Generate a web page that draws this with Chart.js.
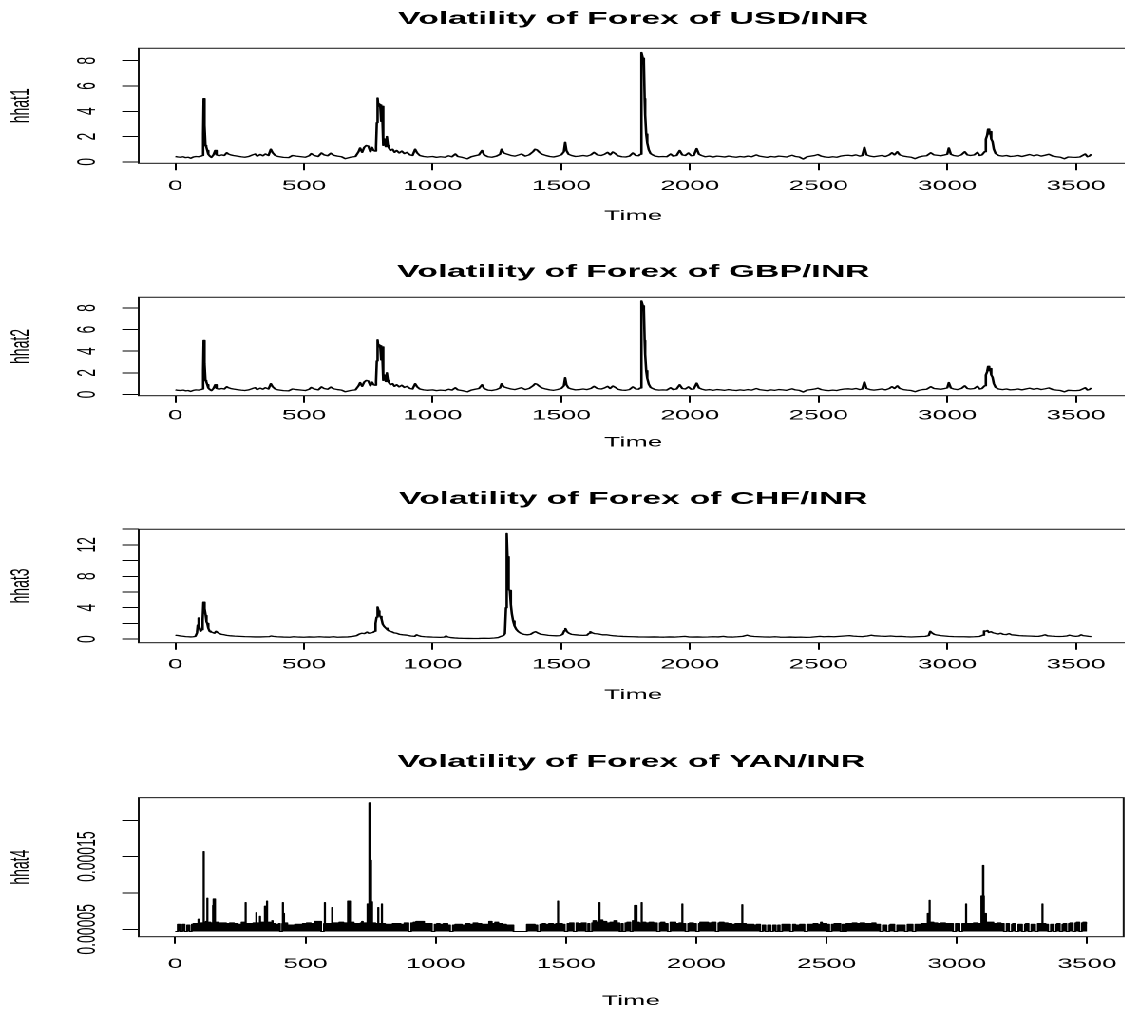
<!DOCTYPE html>
<html>
<head>
<meta charset="utf-8">
<title>Volatility of Forex</title>
<script src="https://cdn.jsdelivr.net/npm/chart.js@4.4.1/dist/chart.umd.min.js"></script>
<style>
  html, body { margin: 0; background: #fff; }
  #page { position: relative; width: 1125px; height: 1010px; overflow: hidden; }
  /* the source figure is an R plot stretched sideways, so the whole drawing is too */
  #stretch { position: absolute; left: 0; top: 0; width: 600px; height: 1010px; transform: scaleX(1.9); transform-origin: 0 0; }
  #stretch canvas { position: absolute; left: 0; }
</style>
</head>
<body>
<div id="page"><div id="stretch">
  <canvas id="usd"></canvas>
  <canvas id="gbp"></canvas>
  <canvas id="chf"></canvas>
  <canvas id="yan"></canvas>
</div></div>
<script>
const timeTicks = [0, 500, 1000, 1500, 2000, 2500, 3000, 3500];

// [time, hhat]
const usdPoints = [
  [0, 0.42], [10, 0.38], [20, 0.36], [30, 0.40], [40, 0.33], [50, 0.36], [60, 0.28], [70, 0.38], [80, 0.42], [90, 0.40],
  [100, 0.45], [106, 0.50], [108, 2.2], [110, 5.0], [112, 4.6], [113, 3.3], [115, 2.9], [117, 1.3], [120, 1.2], [124, 0.9],
  [128, 0.6], [134, 0.45], [140, 0.35], [148, 0.55], [155, 0.90], [160, 0.55], [170, 0.48], [180, 0.55], [190, 0.50], [200, 0.72],
  [206, 0.62], [215, 0.55], [225, 0.50], [240, 0.45], [255, 0.40], [270, 0.36], [285, 0.42], [300, 0.55], [310, 0.62], [318, 0.45],
  [330, 0.58], [340, 0.48], [350, 0.62], [362, 0.50], [371, 1.00], [378, 0.72], [388, 0.50], [400, 0.42], [420, 0.35], [440, 0.33],
  [455, 0.50], [470, 0.45], [490, 0.40], [505, 0.36], [520, 0.48], [528, 0.65], [540, 0.50], [555, 0.42], [568, 0.70], [578, 0.55],
  [592, 0.48], [604, 0.68], [615, 0.52], [630, 0.45], [646, 0.40], [660, 0.25], [680, 0.36], [700, 0.42], [712, 0.80], [718, 1.10],
  [726, 0.75], [734, 1.15], [742, 1.30], [750, 1.25], [758, 0.80], [764, 1.15], [770, 0.90], [776, 0.85], [780, 1.20], [783, 3.10],
  [786, 5.05], [789, 4.40], [792, 4.60], [796, 4.50], [800, 3.20], [803, 4.40], [806, 2.60], [810, 1.30], [814, 1.80], [818, 1.20],
  [822, 2.00], [826, 1.30], [830, 1.10], [836, 0.90], [844, 1.00], [852, 0.75], [860, 0.90], [870, 0.70], [880, 0.85], [890, 0.65],
  [900, 0.75], [912, 0.55], [922, 0.50], [932, 1.00], [940, 0.70], [950, 0.50], [965, 0.42], [980, 0.38], [1000, 0.42], [1015, 0.35],
  [1030, 0.40], [1048, 0.36], [1062, 0.48], [1075, 0.40], [1088, 0.62], [1098, 0.42], [1115, 0.35], [1135, 0.24], [1150, 0.40], [1165, 0.48],
  [1180, 0.55], [1192, 0.90], [1200, 0.55], [1215, 0.40], [1230, 0.36], [1248, 0.45], [1262, 0.60], [1268, 1.00], [1276, 0.70], [1290, 0.60],
  [1305, 0.50], [1320, 0.45], [1335, 0.55], [1345, 0.62], [1360, 0.45], [1375, 0.55], [1390, 0.80], [1398, 1.00], [1405, 0.95], [1415, 0.75],
  [1425, 0.60], [1440, 0.50], [1455, 0.42], [1470, 0.38], [1485, 0.45], [1500, 0.55], [1510, 0.80], [1515, 1.55], [1520, 0.90], [1528, 0.60],
  [1540, 0.50], [1555, 0.42], [1570, 0.45], [1585, 0.50], [1600, 0.45], [1615, 0.55], [1627, 0.75], [1640, 0.55], [1655, 0.50], [1668, 0.60],
  [1680, 0.75], [1690, 0.55], [1700, 0.78], [1710, 0.65], [1720, 0.48], [1735, 0.40], [1750, 0.38], [1765, 0.45], [1778, 0.70], [1790, 0.50],
  [1800, 0.48], [1807, 0.60], [1810, 3.50], [1813, 8.65], [1817, 8.20], [1821, 7.90], [1824, 5.00], [1826, 3.70], [1830, 2.20], [1834, 1.50],
  [1840, 0.95], [1847, 0.65], [1855, 0.55], [1865, 0.45], [1880, 0.40], [1895, 0.42], [1910, 0.40], [1925, 0.62], [1935, 0.45], [1948, 0.50],
  [1960, 0.90], [1970, 0.55], [1982, 0.50], [1994, 0.70], [2005, 0.48], [2015, 0.50], [2026, 1.05], [2035, 0.60], [2045, 0.50], [2060, 0.40],
  [2075, 0.45], [2090, 0.38], [2105, 0.45], [2120, 0.42], [2135, 0.38], [2150, 0.45], [2165, 0.40], [2180, 0.36], [2195, 0.42], [2210, 0.38],
  [2225, 0.45], [2240, 0.40], [2258, 0.55], [2270, 0.45], [2285, 0.40], [2300, 0.35], [2315, 0.42], [2330, 0.38], [2345, 0.45], [2360, 0.42],
  [2375, 0.38], [2397, 0.52], [2410, 0.42], [2425, 0.38], [2440, 0.22], [2455, 0.40], [2470, 0.45], [2485, 0.50], [2497, 0.58], [2510, 0.45],
  [2525, 0.38], [2540, 0.35], [2555, 0.40], [2570, 0.36], [2585, 0.45], [2600, 0.50], [2615, 0.52], [2630, 0.48], [2645, 0.55], [2660, 0.45],
  [2670, 0.50], [2678, 1.15], [2686, 0.55], [2700, 0.45], [2715, 0.40], [2730, 0.45], [2745, 0.50], [2760, 0.42], [2775, 0.55], [2785, 0.72],
  [2795, 0.55], [2806, 0.80], [2815, 0.55], [2830, 0.45], [2845, 0.40], [2860, 0.36], [2875, 0.25], [2890, 0.38], [2905, 0.45], [2920, 0.48],
  [2936, 0.72], [2948, 0.55], [2960, 0.52], [2975, 0.48], [2990, 0.55], [3000, 0.60], [3006, 1.10], [3014, 0.60], [3025, 0.50], [3040, 0.45],
  [3055, 0.55], [3068, 0.80], [3078, 0.55], [3090, 0.50], [3105, 0.55], [3117, 0.75], [3126, 0.50], [3135, 0.55], [3145, 0.80], [3150, 1.80],
  [3155, 2.10], [3159, 2.60], [3163, 2.20], [3167, 2.40], [3171, 1.80], [3176, 1.60], [3181, 1.00], [3188, 0.65], [3200, 0.50], [3215, 0.45],
  [3230, 0.50], [3245, 0.42], [3260, 0.45], [3275, 0.50], [3290, 0.42], [3305, 0.50], [3320, 0.58], [3335, 0.48], [3350, 0.55], [3365, 0.45],
  [3380, 0.52], [3395, 0.60], [3410, 0.45], [3425, 0.40], [3440, 0.36], [3455, 0.24], [3470, 0.38], [3485, 0.36], [3500, 0.35], [3515, 0.38],
  [3530, 0.55], [3536, 0.62], [3545, 0.40], [3552, 0.45], [3560, 0.60]
];

// the GBP/INR panel shows the very same trace as USD/INR
const gbpPoints = usdPoints;

const chfPoints = [
  [0, 0.50], [10, 0.46], [20, 0.40], [30, 0.36], [40, 0.32], [50, 0.30], [60, 0.28], [70, 0.30], [78, 0.35], [84, 0.8],
  [87, 1.8], [89, 2.7], [92, 2.0], [95, 1.3], [98, 1.0], [102, 1.2], [106, 2.5], [109, 4.7], [112, 4.0], [115, 3.9],
  [118, 3.0], [121, 2.2], [124, 2.0], [128, 1.4], [133, 1.0], [138, 0.9], [145, 0.85], [152, 0.75], [158, 1.0], [164, 0.85],
  [172, 0.70], [180, 0.60], [190, 0.55], [200, 0.48], [215, 0.42], [230, 0.38], [250, 0.35], [270, 0.32], [290, 0.30], [310, 0.28],
  [330, 0.28], [350, 0.30], [365, 0.32], [372, 0.40], [380, 0.35], [395, 0.30], [420, 0.26], [445, 0.24], [460, 0.30], [480, 0.26],
  [500, 0.24], [520, 0.28], [540, 0.25], [560, 0.30], [580, 0.26], [600, 0.25], [615, 0.30], [630, 0.24], [650, 0.26], [670, 0.28],
  [690, 0.35], [705, 0.45], [715, 0.65], [725, 0.75], [735, 0.70], [745, 0.90], [752, 0.75], [760, 0.80], [768, 0.85], [774, 1.0],
  [778, 2.0], [782, 2.8], [785, 3.4], [787, 4.1], [790, 3.6], [793, 3.0], [797, 2.9], [801, 2.6], [806, 1.9], [812, 1.6],
  [818, 1.4], [824, 1.2], [830, 1.05], [840, 0.95], [850, 0.80], [860, 0.75], [872, 0.60], [885, 0.55], [900, 0.50], [915, 0.40],
  [930, 0.35], [938, 0.55], [944, 0.45], [955, 0.35], [970, 0.30], [985, 0.28], [1000, 0.25], [1015, 0.24], [1030, 0.22], [1045, 0.25],
  [1052, 0.40], [1058, 0.28], [1070, 0.20], [1085, 0.15], [1100, 0.12], [1120, 0.10], [1140, 0.09], [1160, 0.08], [1180, 0.09], [1200, 0.11],
  [1220, 0.10], [1240, 0.14], [1255, 0.20], [1265, 0.35], [1275, 0.45], [1281, 0.70], [1285, 4.0], [1288, 13.45], [1291, 10.5], [1294, 10.0],
  [1297, 6.3], [1300, 6.2], [1304, 4.4], [1308, 3.2], [1313, 2.3], [1318, 1.7], [1325, 1.25], [1333, 0.95], [1342, 0.75], [1355, 0.60],
  [1368, 0.55], [1380, 0.60], [1392, 0.85], [1400, 0.95], [1408, 0.80], [1420, 0.62], [1435, 0.55], [1450, 0.48], [1465, 0.45], [1480, 0.42],
  [1495, 0.45], [1505, 0.60], [1512, 1.1], [1516, 1.35], [1522, 0.95], [1530, 0.75], [1540, 0.60], [1555, 0.55], [1570, 0.50], [1585, 0.48],
  [1600, 0.50], [1608, 0.75], [1613, 0.95], [1620, 0.80], [1630, 0.70], [1645, 0.65], [1660, 0.55], [1675, 0.55], [1690, 0.48], [1705, 0.42],
  [1720, 0.38], [1740, 0.34], [1760, 0.32], [1780, 0.30], [1800, 0.28], [1820, 0.27], [1840, 0.26], [1860, 0.28], [1880, 0.26], [1900, 0.25],
  [1920, 0.28], [1940, 0.26], [1960, 0.30], [1980, 0.35], [1995, 0.28], [2010, 0.26], [2030, 0.28], [2050, 0.25], [2070, 0.27], [2090, 0.30],
  [2110, 0.28], [2130, 0.35], [2145, 0.27], [2165, 0.26], [2185, 0.30], [2205, 0.35], [2222, 0.50], [2235, 0.38], [2250, 0.33], [2270, 0.30],
  [2290, 0.27], [2310, 0.26], [2330, 0.30], [2350, 0.25], [2370, 0.24], [2390, 0.26], [2410, 0.23], [2430, 0.25], [2450, 0.22], [2470, 0.24],
  [2490, 0.30], [2505, 0.35], [2520, 0.30], [2540, 0.33], [2560, 0.30], [2580, 0.35], [2600, 0.40], [2620, 0.45], [2635, 0.38], [2650, 0.35],
  [2670, 0.32], [2690, 0.40], [2705, 0.50], [2720, 0.42], [2740, 0.38], [2760, 0.35], [2780, 0.40], [2800, 0.33], [2820, 0.35], [2840, 0.30],
  [2860, 0.27], [2880, 0.30], [2900, 0.33], [2915, 0.35], [2928, 0.45], [2934, 1.0], [2940, 0.80], [2950, 0.60], [2960, 0.52], [2975, 0.45],
  [2990, 0.40], [3005, 0.35], [3025, 0.32], [3045, 0.30], [3065, 0.30], [3085, 0.28], [3105, 0.30], [3125, 0.33], [3138, 0.50], [3143, 1.05],
  [3150, 1.0], [3156, 1.1], [3162, 0.85], [3170, 0.95], [3178, 0.80], [3188, 0.72], [3198, 0.65], [3208, 0.75], [3218, 0.60], [3230, 0.58],
  [3240, 0.70], [3250, 0.55], [3265, 0.50], [3280, 0.45], [3295, 0.42], [3310, 0.40], [3325, 0.38], [3340, 0.36], [3355, 0.35], [3370, 0.45],
  [3380, 0.55], [3390, 0.42], [3405, 0.38], [3420, 0.35], [3435, 0.33], [3450, 0.35], [3465, 0.40], [3475, 0.50], [3485, 0.42], [3500, 0.35],
  [3512, 0.40], [3520, 0.55], [3528, 0.45], [3540, 0.40], [3550, 0.35], [3560, 0.32]
];

// YAN/INR: a dense band just above its floor, with thin spikes and gaps
const yanPoints = [
  [0, 4.7e-5], [10, 5.7e-5], [18, 4.7e-5], [28, 5.7e-5], [36, 4.7e-5], [46, 5.6e-5], [55, 4.7e-5], [64, 5.7e-5],
  [70, 5.8e-5], [84, 5.8e-5], [89, 6.4e-5], [91, 5.8e-5], [100, 5.9e-5], [108, 5.9e-5], [109, 15.7e-5], [110, 6.0e-5], [118, 6.1e-5], [123, 9.3e-5],
  [124, 6.0e-5], [135, 5.9e-5], [145, 8.3e-5], [147, 9.2e-5], [152, 9.2e-5], [153, 6.0e-5], [165, 5.9e-5], [180, 5.9e-5], [195, 5.8e-5], [210, 5.9e-5],
  [225, 5.8e-5], [240, 5.7e-5], [255, 6.0e-5], [270, 8.7e-5], [271, 5.8e-5], [285, 5.8e-5], [300, 5.9e-5], [311, 7.3e-5], [312, 5.9e-5], [325, 6.8e-5],
  [326, 6.0e-5], [338, 6.0e-5], [344, 8.2e-5], [348, 8.2e-5], [352, 8.9e-5], [353, 6.0e-5], [365, 5.8e-5], [372, 6.2e-5], [374, 5.8e-5], [385, 5.7e-5],
  [398, 5.8e-5], [402, 4.7e-5], [411, 5.8e-5], [413, 8.7e-5], [414, 7.2e-5], [418, 5.9e-5], [430, 5.6e-5], [445, 5.6e-5], [460, 5.7e-5], [475, 5.7e-5],
  [490, 5.8e-5], [505, 5.9e-5], [520, 5.8e-5], [535, 6.1e-5], [548, 6.1e-5], [560, 4.7e-5], [571, 5.8e-5], [574, 8.7e-5], [575, 5.8e-5], [590, 5.8e-5],
  [602, 8.0e-5], [603, 5.9e-5], [615, 5.9e-5], [630, 6.0e-5], [645, 5.9e-5], [660, 5.9e-5], [663, 8.9e-5], [670, 8.9e-5], [671, 6.0e-5], [685, 5.8e-5],
  [700, 5.8e-5], [712, 5.9e-5], [717, 6.1e-5], [720, 5.9e-5], [730, 5.9e-5], [738, 8.5e-5], [744, 8.5e-5], [745, 22.4e-5], [748, 14.5e-5], [752, 8.8e-5],
  [756, 5.9e-5], [768, 5.8e-5], [779, 8.0e-5], [780, 5.8e-5], [793, 8.5e-5], [794, 5.8e-5], [805, 5.7e-5], [820, 5.7e-5], [835, 5.8e-5], [850, 5.8e-5],
  [865, 5.7e-5], [880, 5.9e-5], [895, 4.7e-5], [906, 5.9e-5], [915, 6.0e-5], [925, 6.1e-5], [940, 6.1e-5], [955, 5.8e-5], [970, 5.8e-5], [985, 4.7e-5],
  [996, 5.7e-5], [1005, 5.8e-5], [1015, 5.7e-5], [1030, 5.8e-5], [1045, 5.6e-5], [1055, 4.7e-5], [1066, 5.6e-5], [1075, 5.7e-5], [1085, 5.7e-5], [1100, 5.6e-5],
  [1115, 5.8e-5], [1130, 5.7e-5], [1145, 5.9e-5], [1160, 5.8e-5], [1175, 5.7e-5], [1190, 5.7e-5], [1205, 6.1e-5], [1215, 5.8e-5], [1228, 6.0e-5], [1240, 5.8e-5],
  [1255, 5.7e-5], [1270, 5.6e-5], [1285, 5.6e-5], [1298, 4.7e-5], [1350, 5.7e-5], [1365, 5.7e-5], [1380, 5.6e-5], [1390, 4.7e-5], [1401, 5.7e-5], [1410, 5.8e-5],
  [1420, 5.7e-5], [1435, 5.8e-5], [1450, 5.7e-5], [1462, 5.8e-5], [1469, 8.9e-5], [1470, 5.8e-5], [1485, 5.7e-5], [1495, 4.7e-5], [1506, 5.8e-5], [1515, 5.9e-5],
  [1529, 4.7e-5], [1540, 5.9e-5], [1545, 5.8e-5], [1560, 5.9e-5], [1576, 4.7e-5], [1585, 5.8e-5], [1590, 4.7e-5], [1600, 5.9e-5], [1605, 6.2e-5], [1615, 6.0e-5],
  [1628, 8.7e-5], [1629, 6.3e-5], [1640, 6.1e-5], [1655, 5.9e-5], [1670, 6.0e-5], [1685, 6.2e-5], [1695, 5.9e-5], [1705, 4.7e-5], [1713, 5.8e-5], [1718, 4.7e-5],
  [1728, 5.9e-5], [1735, 6.0e-5], [1747, 4.7e-5], [1756, 6.2e-5], [1764, 8.3e-5], [1770, 8.3e-5], [1771, 6.0e-5], [1780, 5.9e-5], [1790, 8.7e-5], [1791, 6.0e-5],
  [1805, 5.9e-5], [1820, 6.0e-5], [1835, 5.9e-5], [1849, 4.7e-5], [1860, 5.9e-5], [1865, 6.0e-5], [1878, 5.8e-5], [1890, 4.7e-5], [1901, 6.0e-5], [1905, 6.0e-5],
  [1920, 5.8e-5], [1935, 5.9e-5], [1946, 8.5e-5], [1947, 5.8e-5], [1958, 4.7e-5], [1969, 5.8e-5], [1975, 5.9e-5], [1988, 5.8e-5], [1999, 4.7e-5], [2010, 5.8e-5],
  [2015, 6.0e-5], [2030, 6.0e-5], [2045, 5.9e-5], [2060, 6.0e-5], [2074, 4.7e-5], [2085, 5.9e-5], [2090, 6.0e-5], [2105, 5.9e-5], [2120, 5.8e-5], [2135, 5.7e-5],
  [2150, 5.8e-5], [2165, 5.8e-5], [2176, 8.4e-5], [2177, 5.8e-5], [2190, 5.7e-5], [2205, 5.7e-5], [2220, 5.6e-5], [2232, 5.7e-5], [2245, 4.7e-5], [2255, 5.6e-5],
  [2265, 4.7e-5], [2275, 5.6e-5], [2285, 4.7e-5], [2295, 5.6e-5], [2305, 4.7e-5], [2314, 5.6e-5], [2320, 4.7e-5], [2330, 5.7e-5], [2340, 5.7e-5], [2360, 4.7e-5],
  [2371, 5.7e-5], [2380, 5.6e-5], [2398, 5.7e-5], [2415, 4.7e-5], [2426, 5.7e-5], [2435, 5.7e-5], [2450, 5.8e-5], [2465, 5.7e-5], [2478, 6.0e-5], [2482, 5.8e-5],
  [2500, 4.7e-5], [2506, 5.7e-5], [2510, 4.7e-5], [2520, 5.7e-5], [2530, 5.8e-5], [2553, 4.7e-5], [2561, 5.7e-5], [2566, 4.7e-5], [2576, 5.8e-5], [2585, 5.8e-5],
  [2600, 5.9e-5], [2615, 5.8e-5], [2630, 5.9e-5], [2645, 5.8e-5], [2660, 5.8e-5], [2675, 5.9e-5], [2688, 5.7e-5], [2705, 4.7e-5], [2716, 5.6e-5], [2730, 4.7e-5],
  [2741, 5.6e-5], [2745, 5.7e-5], [2760, 4.7e-5], [2771, 5.6e-5], [2780, 5.6e-5], [2800, 4.7e-5], [2811, 5.7e-5], [2815, 5.7e-5], [2830, 4.7e-5], [2841, 5.7e-5],
  [2850, 5.7e-5], [2865, 5.8e-5], [2878, 5.8e-5], [2888, 7.2e-5], [2895, 9.0e-5], [2896, 6.0e-5], [2910, 5.9e-5], [2925, 5.8e-5], [2940, 5.9e-5], [2955, 5.8e-5],
  [2970, 5.8e-5], [2985, 4.7e-5], [2996, 5.8e-5], [3000, 5.8e-5], [3010, 4.7e-5], [3021, 5.8e-5], [3025, 5.8e-5], [3035, 8.5e-5], [3036, 5.8e-5], [3050, 5.8e-5],
  [3065, 5.9e-5], [3080, 5.8e-5], [3094, 9.6e-5], [3100, 13.8e-5], [3102, 9.6e-5], [3104, 6.2e-5], [3110, 7.2e-5], [3112, 6.0e-5], [3125, 6.0e-5], [3140, 5.8e-5],
  [3155, 5.9e-5], [3168, 5.8e-5], [3180, 4.7e-5], [3191, 5.8e-5], [3200, 4.7e-5], [3211, 5.7e-5], [3215, 5.8e-5], [3225, 4.7e-5], [3236, 5.7e-5], [3240, 5.7e-5],
  [3250, 4.7e-5], [3261, 5.7e-5], [3265, 5.8e-5], [3275, 4.7e-5], [3286, 5.7e-5], [3290, 5.7e-5], [3300, 4.7e-5], [3311, 5.8e-5], [3315, 5.8e-5], [3328, 8.5e-5],
  [3329, 5.8e-5], [3340, 5.7e-5], [3350, 4.7e-5], [3361, 5.7e-5], [3370, 4.7e-5], [3381, 5.7e-5], [3385, 5.8e-5], [3395, 4.7e-5], [3405, 5.7e-5], [3410, 5.8e-5],
  [3420, 4.7e-5], [3430, 5.8e-5], [3435, 5.9e-5], [3445, 4.7e-5], [3455, 5.9e-5], [3460, 6.0e-5], [3470, 4.7e-5], [3480, 5.9e-5], [3485, 6.0e-5], [3495, 5.9e-5],
  [3500, 5.9e-5]
];

const rateYTicks = [0, 2, 4, 6, 8];
const rateYLabels = [0, 2, 4, 6, 8];
const chfYTicks = [0, 2, 4, 6, 8, 10, 12, 14];
const chfYLabels = [0, 4, 8, 12];
const yanYTicks = [0.00005, 0.0001, 0.00015, 0.0002];
const yanYLabels = [0.00005, 0.00015];

// layout, in page pixels (vertical) -- canvas space is 600 wide, stretched 1.9x
const CANVAS_W = 600;
const BOX_LEFT = 73;
const BOX_RIGHT = 593.7;

const panels = [
  { id: 'usd', title: 'Volatility of Forex of USD/INR', ylab: 'hhat1', points: usdPoints,
    yTicks: rateYTicks, yLabels: rateYLabels, titleY: 19, boxTop: 48.3, boxBottom: 163.3, tickLabelY: 186, axisTitleY: 216 },
  { id: 'gbp', title: 'Volatility of Forex of GBP/INR', ylab: 'hhat2', points: gbpPoints,
    yTicks: rateYTicks, yLabels: rateYLabels, titleY: 272, boxTop: 297.3, boxBottom: 395.7, tickLabelY: 415.7, axisTitleY: 442.7 },
  { id: 'chf', title: 'Volatility of Forex of CHF/INR', ylab: 'hhat3', points: chfPoints,
    yTicks: chfYTicks, yLabels: chfYLabels, titleY: 499, boxTop: 529.3, boxBottom: 642.7, tickLabelY: 664.7, axisTitleY: 695 },
  { id: 'yan', title: 'Volatility of Forex of YAN/INR', ylab: 'hhat4', points: yanPoints, band: true,
    yTicks: yanYTicks, yLabels: yanYLabels, titleY: 762, boxTop: 797.7, boxBottom: 936.7, tickLabelY: 964, axisTitleY: 1001 }
];

Chart.defaults.font.family = '"Liberation Sans", Arial, sans-serif';
Chart.defaults.color = '#000';

// R pads each axis range by 4% on both sides
function extendRange(values) {
  const lo = Math.min(...values);
  const hi = Math.max(...values);
  const pad = (hi - lo) * 0.04;
  return [lo - pad, hi + pad];
}

const frameBox = {
  id: 'frameBox',
  afterDraw(chart) {
    const a = chart.chartArea;
    const ctx = chart.ctx;
    ctx.save();
    ctx.strokeStyle = '#111';
    ctx.lineWidth = 1;
    ctx.strokeRect(a.left, a.top, a.right - a.left, a.bottom - a.top);
    ctx.restore();
  }
};

// y tick labels run along the axis, as R does with las = 0
function sideLabels(values) {
  return {
    id: 'sideLabels',
    afterDraw(chart) {
      const yScale = chart.scales.y;
      const ctx = chart.ctx;
      ctx.save();
      ctx.font = '14px "Liberation Sans", Arial, sans-serif';
      ctx.fillStyle = '#000';
      ctx.textAlign = 'center';
      ctx.textBaseline = 'middle';
      values.forEach(v => {
        ctx.save();
        ctx.translate(chart.chartArea.left - 26.7, yScale.getPixelForValue(v));
        ctx.rotate(-Math.PI / 2);
        ctx.fillText(String(v), 0, 0);
        ctx.restore();
      });
      ctx.restore();
    }
  };
}

panels.forEach(p => {
  const canvasTop = Math.max(0, Math.floor(p.titleY - 18));
  const canvasBottom = Math.min(1010, Math.ceil(p.axisTitleY + 9));
  const canvasH = canvasBottom - canvasTop;
  const canvas = document.getElementById(p.id);
  canvas.width = CANVAS_W;
  canvas.height = canvasH;
  canvas.style.top = canvasTop + 'px';

  const times = p.points.map(d => d[0]);
  const vals = p.points.map(d => d[1]);
  const xr = extendRange(times);
  const yr = extendRange(vals);

  const dataset = {
    data: p.points.map(d => ({ x: d[0], y: d[1] })),
    borderColor: '#000',
    borderWidth: 1.3,
    borderJoinStyle: 'round',
    pointRadius: 0,
    tension: 0,
    fill: false
  };
  if (p.band) {
    dataset.borderWidth = 1;
    dataset.stepped = true;
    dataset.fill = { value: Math.min(...vals) };
    dataset.backgroundColor = '#000';
  }

  new Chart(canvas, {
    type: 'line',
    data: { datasets: [dataset] },
    options: {
      responsive: false,
      devicePixelRatio: 2,
      animation: false,
      layout: { padding: { top: 0, left: 0, bottom: 0, right: CANVAS_W - BOX_RIGHT } },
      plugins: {
        legend: { display: false },
        tooltip: { enabled: false },
        title: {
          display: true,
          text: p.title,
          fullSize: false,
          color: '#000',
          font: { size: 17.8, weight: 'bold' },
          padding: { top: p.titleY - canvasTop - 10.7, bottom: p.boxTop - p.titleY - 10.7 }
        }
      },
      scales: {
        x: {
          type: 'linear',
          min: xr[0],
          max: xr[1],
          bounds: 'data',
          afterBuildTicks: s => { s.ticks = timeTicks.map(v => ({ value: v })); },
          afterFit: s => { s.height = canvasBottom - p.boxBottom; },
          grid: { drawOnChartArea: false, drawTicks: true, tickLength: 7, color: '#000', lineWidth: 1 },
          border: { display: false },
          ticks: {
            autoSkip: false,
            maxRotation: 0,
            minRotation: 0,
            padding: p.tickLabelY - p.boxBottom - 7 - 8.4,
            color: '#000',
            font: { size: 14 },
            callback: v => String(v)
          },
          title: {
            display: true,
            text: 'Time',
            color: '#000',
            font: { size: 14 },
            padding: { top: 0, bottom: canvasBottom - p.axisTitleY - 8.4 }
          }
        },
        y: {
          type: 'linear',
          min: yr[0],
          max: yr[1],
          bounds: 'data',
          afterBuildTicks: s => { s.ticks = p.yTicks.map(v => ({ value: v })); },
          afterFit: s => { s.width = BOX_LEFT; },
          grid: { drawOnChartArea: false, drawTicks: true, tickLength: 8.7, color: '#000', lineWidth: 1 },
          border: { display: false },
          ticks: { display: false },
          title: {
            display: true,
            text: p.ylab,
            color: '#000',
            font: { size: 14 },
            padding: { top: 2.5, bottom: 0 }
          }
        }
      }
    },
    plugins: [frameBox, sideLabels(p.yLabels)]
  });
});
</script>
</body>
</html>
